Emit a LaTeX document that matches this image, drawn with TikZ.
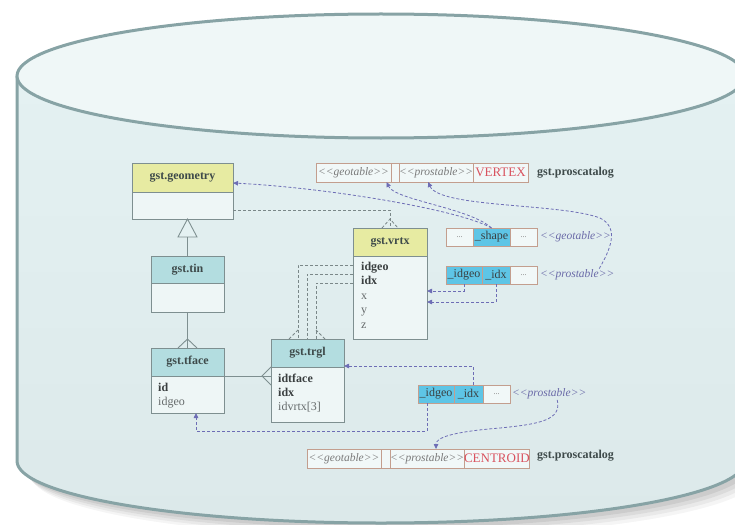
\documentclass[tikz,border=0pt]{standalone}
\usepackage{fontspec}
\setmainfont{Liberation Serif}
\usetikzlibrary{arrows.meta,calc}
\definecolor{cylline}{HTML}{87A3A5}
\definecolor{topc}{HTML}{EFF7F7}
\definecolor{bodya}{HTML}{E4F1F2}
\definecolor{bodyb}{HTML}{E3F0F1}
\definecolor{bodyd}{HTML}{DCE9EA}
\definecolor{boxc}{HTML}{7E8F90}
\definecolor{boxbody}{HTML}{EEF6F6}
\definecolor{yel}{HTML}{E7EBA2}
\definecolor{teal}{HTML}{B3DDE0}
\definecolor{cellc}{HTML}{C39E8E}
\definecolor{cellfill}{HTML}{F1F8F8}
\definecolor{cyanc}{HTML}{5EC5E6}
\definecolor{gdashc}{HTML}{7A8788}
\definecolor{pdashc}{HTML}{6D6DB5}
\definecolor{redc}{HTML}{D9535F}
\definecolor{headtxt}{HTML}{3E4A4A}
\definecolor{fieldtxt}{HTML}{3A3F40}
\definecolor{fieldreg}{HTML}{666B6C}
\definecolor{rowtxt}{HTML}{7A7A7A}
\definecolor{lbltxt}{HTML}{6A6AA8}
\newcommand\dlt{<\kern0pt<}
\newcommand\dgt{>\kern0pt>}
\tikzset{
  cyl/.style={draw=cylline, line width=3pt},
  cbox/.style={draw=boxc, fill=boxbody, line width=0.9pt, inner sep=0pt, outer sep=0pt, anchor=north west},
  chead/.style={cbox, font=\bfseries\fontsize{12}{14}\selectfont, text=headtxt},
  fieldb/.style={anchor=base west, inner sep=0pt, font=\bfseries\fontsize{12}{14}\selectfont, text=fieldtxt},
  fieldr/.style={anchor=base west, inner sep=0pt, font=\fontsize{12}{14}\selectfont, text=fieldreg},
  cell/.style={draw=cellc, fill=cellfill, line width=0.8pt, inner sep=0pt, outer sep=0pt, anchor=north west, minimum height=18pt, font=\fontsize{12}{14}\selectfont, text=fieldtxt},
  cyancell/.style={cell, fill=cyanc},
  rowit/.style={font=\itshape\fontsize{11.5}{13}\selectfont, text=rowtxt},
  dots/.style={font=\fontsize{8}{9}\selectfont, text=rowtxt},
  lbl/.style={anchor=west, inner sep=1pt, font=\itshape\fontsize{11.5}{13}\selectfont, text=lbltxt},
  catlbl/.style={anchor=west, inner sep=0pt, font=\bfseries\fontsize{12}{14}\selectfont, text=headtxt},
  sline/.style={draw=boxc, line width=0.9pt},
  gdash/.style={draw=gdashc, line width=0.8pt, dash pattern=on 3pt off 2pt},
  pdash/.style={draw=pdashc, line width=0.8pt, dash pattern=on 3pt off 2pt, -{Triangle[length=5pt,width=4.5pt]}}
}
\begin{document}
\begin{tikzpicture}[x=1pt,y=-1pt]
\useasboundingbox (0,0) rectangle (735,524);
% shadow
\begin{scope}
\clip (0,0) rectangle (735,524);
\foreach \d/\o in {14/0.04,11/0.05,8/0.06,5/0.07} {
  \fill[black, opacity=\o] (381+\d,461+\d) ellipse [x radius=364, y radius=62];
}
\end{scope}
% cylinder body
\shade[top color=bodya, middle color=bodyb, bottom color=bodyd]
  (17,76) -- (17,461) arc[start angle=180, end angle=0, x radius=364, y radius=62] -- (745,76) -- cycle;
\draw[cyl] (17,76) -- (17,461) arc[start angle=180, end angle=0, x radius=364, y radius=62];
\draw[cyl, fill=topc] (381,76) ellipse [x radius=364, y radius=62];

% ---------- class boxes
\node[cbox, minimum width=101pt, minimum height=56pt] (geo) at (132,163) {};
\node[chead, fill=yel, minimum width=101pt, minimum height=29pt] (geoh) at (132,163) {gst.geometry};

\node[cbox, minimum width=73pt, minimum height=56pt] (tin) at (151,256) {};
\node[chead, fill=teal, minimum width=73pt, minimum height=27pt] (tinh) at (151,256) {gst.tin};

\node[cbox, minimum width=73pt, minimum height=65pt] (tface) at (151,348) {};
\node[chead, fill=teal, minimum width=73pt, minimum height=28pt] (tfaceh) at (151,348) {gst.tface};
\node[fieldb] (tf1) at (158,391) {id};
\node[fieldr] (tf2) at (158,405) {idgeo};

\node[cbox, minimum width=73pt, minimum height=83pt] (trgl) at (271,339) {};
\node[chead, fill=teal, minimum width=73pt, minimum height=28pt] (trglh) at (271,339) {gst.trgl};
\node[fieldb] (tr1) at (278,382) {idtface};
\node[fieldb] (tr2) at (278,396) {idx};
\node[fieldr] (tr3) at (278,410) {idvrtx[3]};

\node[cbox, minimum width=74pt, minimum height=111pt] (vrtx) at (353,228) {};
\node[chead, fill=yel, minimum width=74pt, minimum height=28pt] (vrtxh) at (353,228) {gst.vrtx};
\node[fieldb] (vx1) at (361,270) {idgeo};
\node[fieldb] (vx2) at (361,284.5) {idx};
\node[fieldr] (vx3) at (361,299) {x};
\node[fieldr] (vx4) at (361,313.5) {y};
\node[fieldr] (vx5) at (361,328) {z};

% ---------- catalog row VERTEX
\node[cell, minimum width=75pt, minimum height=19pt, rowit] (v1) at (316,163) {\dlt geotable\dgt};
\node[cell, minimum width=8pt, minimum height=19pt] (v2) at (391,163) {};
\node[cell, minimum width=74pt, minimum height=19pt, rowit] (v3) at (399,163) {\dlt prostable\dgt};
\node[cell, minimum width=55pt, minimum height=19pt, text=redc, font=\fontsize{13}{14}\selectfont] (v4) at (473,163) {VERTEX};
\node[catlbl] (cat1) at (537,172.5) {gst.proscatalog};

% ---------- shape row
\node[cell, minimum width=27pt, dots] (s1) at (446,228) {...};
\node[cyancell, minimum width=37pt] (s2) at (473,228) {\_shape};
\node[cell, minimum width=27pt, dots] (s3) at (510,228) {...};
\node[lbl] (sgl) at (539,237) {\dlt geotable\dgt};

% ---------- idgeo row (upper)
\node[cyancell, minimum width=36pt] (i1) at (446,266) {\_idgeo};
\node[cyancell, minimum width=28pt] (i2) at (482,266) {\_idx};
\node[cell, minimum width=27pt, dots] (i3) at (510,266) {...};
\node[lbl] (ipl) at (539,275) {\dlt prostable\dgt};

% ---------- idgeo row (lower)
\node[cyancell, minimum width=36pt] (l1) at (418,385) {\_idgeo};
\node[cyancell, minimum width=29pt] (l2) at (454,385) {\_idx};
\node[cell, minimum width=27pt, dots] (l3) at (483,385) {...};
\node[lbl] (lpl) at (511,393.5) {\dlt prostable\dgt};

% ---------- catalog row CENTROID
\node[cell, minimum width=74pt, minimum height=19pt, rowit] (c1) at (307,449) {\dlt geotable\dgt};
\node[cell, minimum width=9pt, minimum height=19pt] (c2) at (381,449) {};
\node[cell, minimum width=74pt, minimum height=19pt, rowit] (c3) at (390,449) {\dlt prostable\dgt};
\node[cell, minimum width=65pt, minimum height=19pt, text=redc, font=\fontsize{13}{14}\selectfont] (c4) at (464,449) {CENTROID};
\node[catlbl] (cat2) at (537,456) {gst.proscatalog};

% ---------- solid UML connectors
\draw[sline, fill=bodya] (tin.north |- geo.south) -- ++(-9.5,18) -- ++(19,0) -- cycle;
\draw[sline] ($(tin.north |- geo.south)+(0,18)$) -- (tin.north);
\draw[sline] (tin.south) -- (tface.north);
\draw[sline] ([xshift=-9.5pt]tface.north) -- ([yshift=9pt]tface.north) -- ([xshift=9.5pt]tface.north);
\draw[sline] ([yshift=4.5pt]tface.east) -- ([yshift=4.5pt]trgl.west);
\draw[sline] ([yshift=13.5pt]trgl.west) -- ([xshift=-9pt,yshift=4.5pt]trgl.west) -- ([yshift=-4.5pt]trgl.west);

% ---------- gray dashed connectors
\draw[gdash] ([yshift=-19pt]geo.east) -| (vrtx.north);
\draw[gdash] ([xshift=-8pt]vrtx.north) -- ([yshift=9pt]vrtx.north) -- ([xshift=8pt]vrtx.north);
\draw[gdash] ([yshift=18.5pt]vrtx.west) -| ([xshift=-9.5pt]trgl.north);
\draw[gdash] ([yshift=9.5pt]vrtx.west) -| ([xshift=-0.5pt]trgl.north);
\draw[gdash] ([yshift=0.5pt]vrtx.west) -| ([xshift=8.5pt]trgl.north);
\draw[gdash] ([xshift=-18.5pt]trgl.north) -- ([xshift=-9.5pt,yshift=9pt]trgl.north);
\draw[gdash] ([xshift=17.5pt]trgl.north) -- ([xshift=8.5pt,yshift=9pt]trgl.north);

% ---------- purple dashed arrows
\draw[pdash] (s2.north) .. controls (460,210) and (330,188) .. ([yshift=-5.5pt]geoh.east);
\draw[pdash] (s2.north) .. controls (470,208) and (395,200) .. ([xshift=33pt]v1.south);
\draw[pdash] ([xshift=22pt]ipl.north) .. controls (610,250) and (620,228) .. (600,218)
   .. controls (560,203) and (440,208) .. ([xshift=-8pt]v3.south);
\draw[pdash] (i1.south) |- ([yshift=-7.5pt]vrtx.east);
\draw[pdash] (i2.south) |- ([yshift=-18.5pt]vrtx.east);
\draw[pdash] ([xshift=4.5pt]l2.north) |- ([yshift=14.5pt]trgl.east);
\draw[pdash] ([xshift=-9pt]l1.south) -- ++(0,28) -| ([xshift=8.5pt]tface.south);
\draw[pdash] ([xshift=8pt]lpl.south) .. controls (562,420) and (540,424) .. (500,428)
   .. controls (450,432) and (436,438) .. ([xshift=9pt]c3.north);
\end{tikzpicture}
\end{document}
